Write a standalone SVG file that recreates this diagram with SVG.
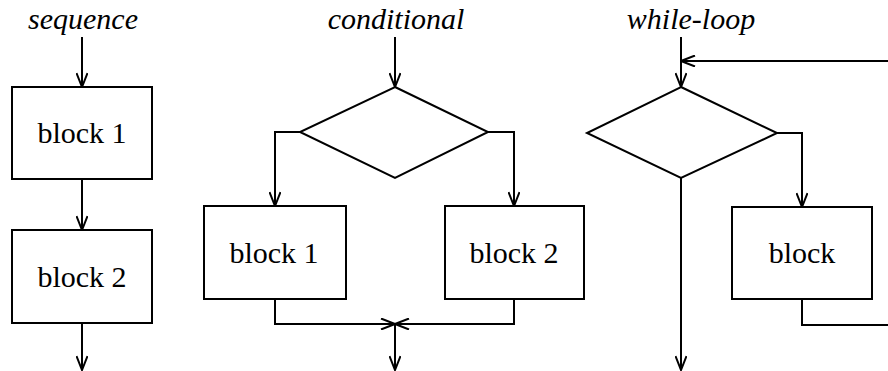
<svg xmlns="http://www.w3.org/2000/svg" width="888" height="371" viewBox="0 0 888 371">
  <style>
    .box { fill: #fff; stroke: #000; stroke-width: 2; }
    .dec { fill: #fff; stroke: #000; stroke-width: 2; stroke-linejoin: miter; }
    .wire { fill: none; stroke: #000; stroke-width: 2; }
    .title { font-family: "Liberation Serif", "Times New Roman", serif; font-style: italic; font-size: 30px; fill: #000; text-anchor: middle; }
    .label { font-family: "Liberation Serif", "Times New Roman", serif; font-size: 30px; fill: #000; text-anchor: middle; }
  </style>
  <defs>
    <marker id="arrow" viewBox="0 0 16 12" refX="15" refY="6" markerWidth="16" markerHeight="12" markerUnits="userSpaceOnUse" orient="auto">
      <path d="M1,0.5 L15,6 L1,11.5" fill="none" stroke="#000" stroke-width="2"/>
    </marker>
  </defs>

  <!-- column titles -->
  <text class="title" x="83" y="29">sequence</text>
  <text class="title" x="396" y="29">conditional</text>
  <text class="title" x="691" y="29">while-loop</text>

  <!-- connectors -->
  <g id="connectors" class="wire" marker-end="url(#arrow)">
    <!-- sequence -->
    <path d="M82,37 V87"/>
    <path d="M82,179 V230"/>
    <path d="M82,323 V370"/>
    <!-- conditional -->
    <path d="M395,37 V87"/>
    <path d="M300,132 H275 V206"/>
    <path d="M488,132 H514 V206"/>
    <path d="M275,299 V324 H395"/>
    <path d="M514,299 V324 H395"/>
    <path d="M395,324 V370"/>
    <!-- while-loop -->
    <path d="M681,37 V87"/>
    <path d="M889,61 H681"/>
    <path d="M777,133 H802 V207"/>
    <path d="M681,178 V370"/>
    <path d="M802,299 V325 H889" marker-end="none"/>
  </g>

  <!-- sequence nodes -->
  <g id="seq-block1">
    <rect class="box" x="12" y="87" width="140" height="92"/>
    <text class="label" x="82" y="143">block 1</text>
  </g>
  <g id="seq-block2">
    <rect class="box" x="12" y="230" width="140" height="93"/>
    <text class="label" x="82" y="287">block 2</text>
  </g>

  <!-- conditional nodes -->
  <g id="cond-decision">
    <polygon class="dec" points="395,87 488,132 395,178 300,132"/>
  </g>
  <g id="cond-block1">
    <rect class="box" x="204" y="206" width="142" height="93"/>
    <text class="label" x="274" y="263">block 1</text>
  </g>
  <g id="cond-block2">
    <rect class="box" x="445" y="206" width="139" height="93"/>
    <text class="label" x="514" y="263">block 2</text>
  </g>

  <!-- while-loop nodes -->
  <g id="loop-decision">
    <polygon class="dec" points="681,87 777,133 681,178 587,133"/>
  </g>
  <g id="loop-block">
    <rect class="box" x="732" y="207" width="140" height="92"/>
    <text class="label" x="802" y="263">block</text>
  </g>
</svg>
